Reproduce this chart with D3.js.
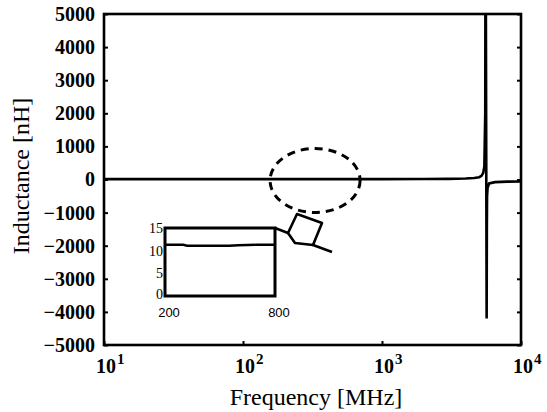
<!DOCTYPE html>
<html>
<head>
<meta charset="utf-8">
<script src="https://cdn.jsdelivr.net/npm/d3@7"></script>
<style>
  body { margin: 0; background: #fff; }
  text { fill: #000; }
</style>
</head>
<body>
<div id="chart"></div>
<script>
// main trace: frequency (MHz) vs inductance (nH)
const freqMHz = [10, 30, 100, 300, 1000, 2000, 3000, 4000, 4600, 5000, 5200, 5350, 5450, 5530, 5560,
  5660, 5680, 5700, 5750, 5900, 6500, 8000, 10000];
const inductanceNH = [11, 11, 11, 11, 12, 15, 20, 30, 45, 70, 110, 200, 400, 2000, 9000,
  -4200, -1500, -500, -250, -120, -80, -65, -60];

// zoomed inset, 200-800 MHz
const insetFreq = [200, 260, 300, 320, 450, 550, 600, 700, 800];
const insetL = [11.3, 11.3, 11.3, 11.1, 11.1, 11.1, 11.2, 11.3, 11.3];

const yTicks = [5000, 4000, 3000, 2000, 1000, 0, -1000, -2000, -3000, -4000, -5000];
const xTicks = [10, 100, 1000, 10000];
const xExponents = ['1', '2', '3', '4'];
const insetYTicks = [0, 5, 10, 15];
const insetXTicks = [200, 800];

const width = 547;
const height = 412;
const margin = {top: 14, right: 26, bottom: 67, left: 104};
const plotW = width - margin.left - margin.right;
const plotH = height - margin.top - margin.bottom;

const svg = d3.select('#chart').append('svg')
  .attr('width', width)
  .attr('height', height);

const x = d3.scaleLog().domain([10, 10000]).range([0, plotW]);
const y = d3.scaleLinear().domain([-5000, 5000]).range([plotH, 0]);

const g = svg.append('g')
  .attr('transform', 'translate(' + margin.left + ',' + margin.top + ')');

g.append('clipPath').attr('id', 'plot-clip')
  .append('rect').attr('width', plotW).attr('height', plotH);

// axes: ticks point inward, labels outside
const tickFont = 'Liberation Serif';

const yAxisL = g.append('g')
  .call(d3.axisLeft(y).tickValues(yTicks).tickSize(-4).tickPadding(9).tickFormat(d3.format('d')));
yAxisL.selectAll('text')
  .attr('fill', '#000')
  .attr('font-family', tickFont).attr('font-size', 20).attr('font-weight', 'bold');

const yAxisR = g.append('g')
  .attr('transform', 'translate(' + plotW + ',0)')
  .call(d3.axisRight(y).tickValues(yTicks).tickSize(-4).tickFormat(''));

const xAxis = g.append('g')
  .attr('transform', 'translate(0,' + plotH + ')')
  .call(d3.axisBottom(x).tickValues(xTicks).tickSize(-4).tickFormat(''));

[yAxisL, yAxisR, xAxis].forEach(a => {
  a.select('.domain').remove();
  a.selectAll('.tick line').attr('stroke', '#000').attr('stroke-width', 2);
});

// 10^n labels
xTicks.forEach((t, i) => {
  g.append('text')
    .attr('x', x(t) + 2)
    .attr('y', plotH + 28)
    .attr('text-anchor', 'middle')
    .attr('font-family', tickFont)
    .attr('font-size', 20)
    .attr('font-weight', 'bold')
    .text('10');
  g.append('text')
    .attr('x', x(t) + 13)
    .attr('y', plotH + 19)
    .attr('font-family', tickFont)
    .attr('font-size', 15)
    .attr('font-weight', 'bold')
    .text(xExponents[i]);
});

// main trace
const line = d3.line()
  .x((d, i) => x(freqMHz[i]))
  .y(d => y(d));

g.append('path')
  .datum(inductanceNH)
  .attr('clip-path', 'url(#plot-clip)')
  .attr('fill', 'none')
  .attr('stroke', '#000')
  .attr('stroke-width', 2.6)
  .attr('d', line);

// frame
g.append('rect')
  .attr('width', plotW)
  .attr('height', plotH)
  .attr('fill', 'none')
  .attr('stroke', '#000')
  .attr('stroke-width', 2.6);

// dashed ellipse marking the zoomed region
g.append('ellipse')
  .attr('cx', x(330))
  .attr('cy', y(-30))
  .attr('rx', 45)
  .attr('ry', 32)
  .attr('fill', 'none')
  .attr('stroke', '#000')
  .attr('stroke-width', 3)
  .attr('stroke-dasharray', '8,6');

// inset
const inset = {left: 165, top: 228, w: 110, h: 68};
const ix = d3.scaleLinear().domain([200, 800]).range([0, inset.w]);
const iy = d3.scaleLinear().domain([0, 15]).range([inset.h, 0]);

const ig = svg.append('g')
  .attr('transform', 'translate(' + inset.left + ',' + inset.top + ')');

ig.append('rect')
  .attr('width', inset.w)
  .attr('height', inset.h)
  .attr('fill', '#fff')
  .attr('stroke', '#000')
  .attr('stroke-width', 3);

ig.append('path')
  .datum(insetL)
  .attr('fill', 'none')
  .attr('stroke', '#000')
  .attr('stroke-width', 2.4)
  .attr('d', d3.line().x((d, i) => ix(insetFreq[i])).y(d => iy(d)));

ig.selectAll('.iy')
  .data(insetYTicks)
  .join('text')
  .attr('x', -2)
  .attr('y', d => iy(d) - (d === 0 ? 2 : 0))
  .attr('dy', '0.35em')
  .attr('text-anchor', 'end')
  .attr('font-family', tickFont)
  .attr('font-size', 14)
  .text(d => d);

ig.selectAll('.ix')
  .data(insetXTicks)
  .join('text')
  .attr('x', d => ix(d) + 4)
  .attr('y', inset.h + 21)
  .attr('text-anchor', 'middle')
  .attr('font-family', 'Liberation Sans')
  .attr('font-size', 13)
  .text(d => d);

// hand-drawn pointer from inset to ellipse
const pointer = [[0, 0], [13, 5], [22, -14], [47, -5], [38, 17], [57, 24]];
const pointer2 = [[13, 5], [20, 15], [38, 17]];
[pointer, pointer2].forEach(p => {
  ig.append('path')
    .attr('transform', 'translate(' + inset.w + ',0)')
    .attr('fill', 'none')
    .attr('stroke', '#000')
    .attr('stroke-width', 2.6)
    .attr('stroke-linejoin', 'round')
    .attr('d', d3.line()(p));
});

// axis titles
svg.append('text')
  .attr('x', margin.left + 212)
  .attr('y', 405)
  .attr('text-anchor', 'middle')
  .attr('font-family', tickFont)
  .attr('font-size', 24)
  .text('Frequency [MHz]');

svg.append('text')
  .attr('transform', 'translate(29,176) rotate(-90)')
  .attr('text-anchor', 'middle')
  .attr('font-family', tickFont)
  .attr('font-size', 24)
  .text('Inductance [nH]');
</script>
</body>
</html>
